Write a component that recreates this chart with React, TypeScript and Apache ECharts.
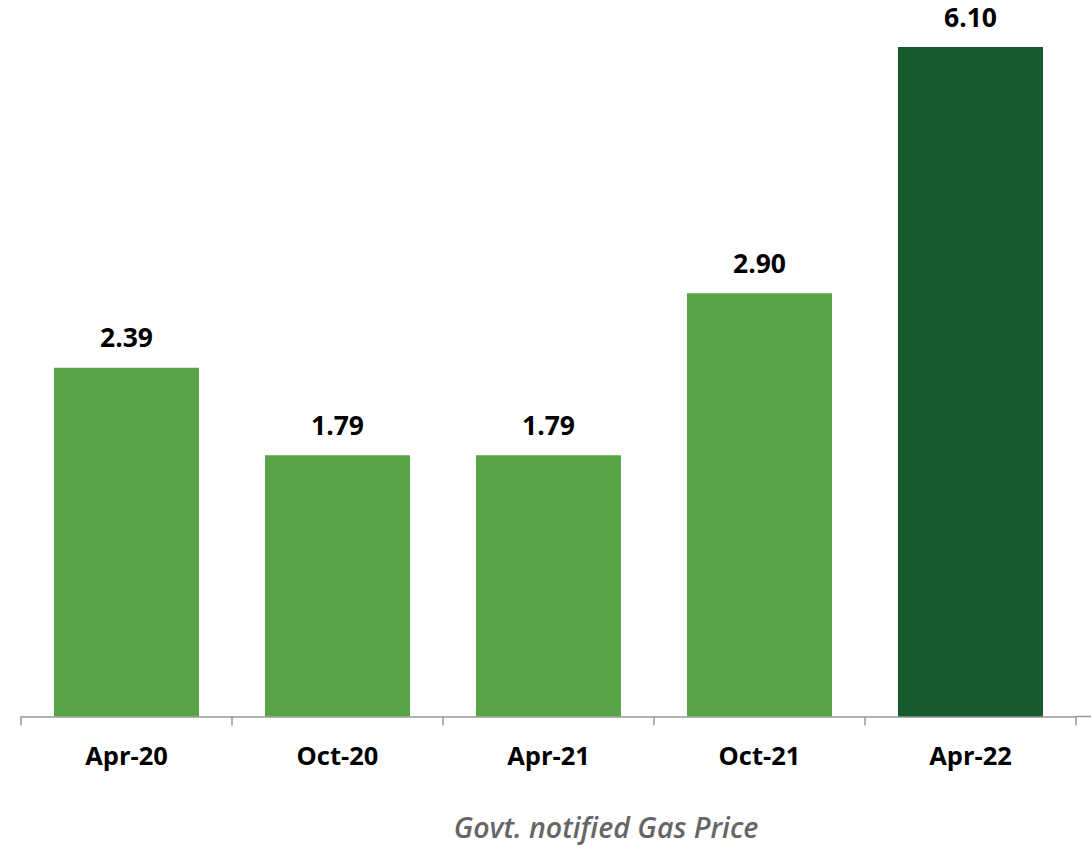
import React, { useEffect, useRef } from "react";
import * as echarts from "echarts";

const categories = ["Apr-20", "Oct-20", "Apr-21", "Oct-21", "Apr-22"];
const prices = [2.39, 1.79, 1.79, 2.9, 6.1];
const barColors = ["#58a447", "#58a447", "#58a447", "#58a447", "#175a30"];
const chartTitle = "Govt. notified Gas Price";

export default function App() {
  const ref = useRef<HTMLDivElement>(null);
  useEffect(() => {
    if (!ref.current) return;
    const chart = echarts.init(ref.current, null, { renderer: "svg" });
    chart.setOption({
      animation: false,
      backgroundColor: "#ffffff",
      grid: { left: 21, right: 15, top: 47, bottom: 130.5, containLabel: false },
      title: {
        text: chartTitle,
        left: 601,
        top: 807,
        textAlign: "center",
        textStyle: {
          fontFamily: "Open Sans",
          fontStyle: "italic",
          fontWeight: 600,
          fontSize: 28.5,
          color: "#666666",
        },
      },
      graphic: [
        {
          type: "line",
          shape: { x1: 1076, y1: 716.5, x2: 1091, y2: 716.5 },
          style: { stroke: "#999999", lineWidth: 1.5 },
        },
      ],
      xAxis: {
        type: "category",
        data: categories,
        boundaryGap: true,
        axisLine: { show: true, lineStyle: { color: "#999999", width: 1.5 } },
        axisTick: { show: true, length: 9, inside: false, alignWithLabel: false, lineStyle: { color: "#999999", width: 1.5 } },
        axisLabel: {
          margin: 25,
          fontFamily: "Open Sans",
          fontWeight: "bold",
          fontSize: 25.5,
          color: "#000000",
        },
      },
      yAxis: {
        type: "value",
        show: false,
        min: 0,
        max: 6.1,
        splitLine: { show: false },
        breaks: [{ start: 3.5, end: 5.013, gap: 0 }],
        breakArea: { show: false },
      },
      series: [
        {
          type: "bar",
          barWidth: 145,
          data: prices.map((v, i) => ({ value: v, itemStyle: { color: barColors[i] } })),
          label: {
            show: true,
            position: "top",
            distance: 17,
            formatter: (p: any) => Number(p.value).toFixed(2),
            fontFamily: "Open Sans",
            fontWeight: "bold",
            fontSize: 26.5,
            color: "#000000",
          },
        },
      ],
    });
    return () => chart.dispose();
  }, []);
  return (
    <div
      ref={ref}
      style={{ position: "absolute", left: 0, top: 0, width: 1091, height: 847 }}
    />
  );
}
